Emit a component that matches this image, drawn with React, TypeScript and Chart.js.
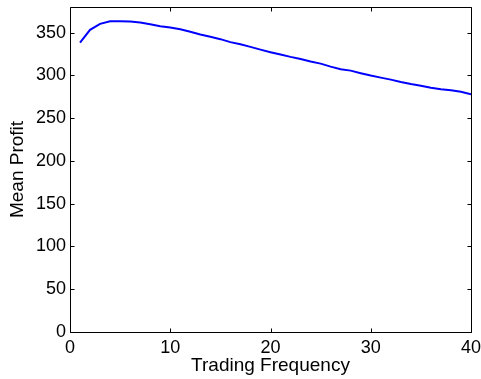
import React, { useEffect, useRef } from "react";
import { Chart, registerables } from "chart.js";

Chart.register(...registerables);

const frequencies: number[] = [
  1, 2, 3, 4, 5, 6, 7, 8, 9, 10, 11, 12, 13, 14, 15, 16, 17, 18, 19, 20,
  21, 22, 23, 24, 25, 26, 27, 28, 29, 30, 31, 32, 33, 34, 35, 36, 37, 38, 39, 40,
];
const meanProfit: number[] = [
  338.4, 353.3, 360.3, 363.4, 363.4, 363.0, 361.8, 359.9, 357.6, 356.0,
  354.0, 351.0, 347.8, 345.2, 342.4, 338.9, 336.5, 333.4, 330.2, 327.2,
  324.4, 321.7, 319.3, 316.2, 313.8, 310.3, 307.3, 305.6, 302.6, 299.8,
  297.4, 295.1, 292.4, 290.0, 288.0, 285.7, 283.8, 282.6, 281.0, 278.0,
];
const xTicks: number[] = [0, 10, 20, 30, 40];
const yTicks: number[] = [0, 50, 100, 150, 200, 250, 300, 350];
const xTitle = "Trading Frequency";
const yTitle = "Mean Profit";

const FONT = "'Liberation Sans', Arial, Helvetica, sans-serif";

const boxPlugin = {
  id: "matlabBox",
  afterDatasetsDraw(chart: any) {
    const { ctx, chartArea } = chart;
    const { left, right, top, bottom } = chartArea;
    const xs = chart.scales.x;
    const ys = chart.scales.y;
    ctx.save();
    ctx.strokeStyle = "#000";
    ctx.lineWidth = 1;
    ctx.beginPath();
    const L = Math.round(left) + 0.5;
    const R = Math.round(right) + 0.5;
    const T = Math.round(top) + 0.5;
    const B = Math.round(bottom) + 0.5;
    ctx.rect(L, T, R - L, B - T);
    const tl = 4;
    for (const v of xTicks) {
      const px = Math.round(xs.getPixelForValue(v)) + 0.5;
      ctx.moveTo(px, B);
      ctx.lineTo(px, B - tl);
      ctx.moveTo(px, T);
      ctx.lineTo(px, T + tl);
    }
    for (const v of yTicks) {
      const py = Math.round(ys.getPixelForValue(v)) + 0.5;
      ctx.moveTo(L, py);
      ctx.lineTo(L + tl, py);
      ctx.moveTo(R, py);
      ctx.lineTo(R - tl, py);
    }
    ctx.stroke();
    ctx.restore();
  },
};

export default function App() {
  const ref = useRef<HTMLCanvasElement | null>(null);
  useEffect(() => {
    if (!ref.current) return;
    const chart = new Chart(ref.current, {
      type: "line",
      data: {
        datasets: [
          {
            data: frequencies.map((f, i) => ({ x: f, y: meanProfit[i] })),
            borderColor: "#0000ff",
            borderWidth: 2,
            pointRadius: 0,
            tension: 0,
            fill: false,
          },
        ],
      },
      options: {
        animation: false,
        responsive: false,
        maintainAspectRatio: false,
        layout: { padding: { top: 7, right: 10, left: 0, bottom: 0 } },
        plugins: { legend: { display: false }, tooltip: { enabled: false } },
        scales: {
          x: {
            type: "linear",
            min: 0,
            max: 40,
            border: { display: false },
            grid: { display: false, drawTicks: false },
            afterBuildTicks: (s: any) => {
              s.ticks = xTicks.map((v) => ({ value: v }));
            },
            afterFit: (s: any) => {
              s.height = 47;
              s.paddingLeft = 0;
              s.paddingRight = 0;
            },
            ticks: {
              color: "#000",
              font: { family: FONT, size: 18 },
              padding: 5,
              maxRotation: 0,
            },
            title: {
              display: true,
              text: xTitle,
              color: "#000",
              font: { family: FONT, size: 19 },
              padding: { top: 0, bottom: 2 },
            },
          },
          y: {
            type: "linear",
            min: 0,
            max: 380,
            border: { display: false },
            grid: { display: false, drawTicks: false },
            afterBuildTicks: (s: any) => {
              s.ticks = yTicks.map((v) => ({ value: v }));
            },
            afterFit: (s: any) => {
              s.width = 70;
              s.paddingTop = 0;
              s.paddingBottom = 0;
            },
            ticks: {
              color: "#000",
              font: { family: FONT, size: 18 },
              padding: 4,
            },
            title: {
              display: true,
              text: yTitle,
              color: "#000",
              font: { family: FONT, size: 19 },
              padding: { top: 6, bottom: 0 },
            },
          },
        },
      },
      plugins: [boxPlugin],
    } as any);
    return () => chart.destroy();
  }, []);
  return (
    <div style={{ position: "fixed", left: 0, top: 0, width: 481, height: 379, background: "#fff" }}>
      <canvas ref={ref} width={481} height={379} style={{ display: "block" }} />
    </div>
  );
}
